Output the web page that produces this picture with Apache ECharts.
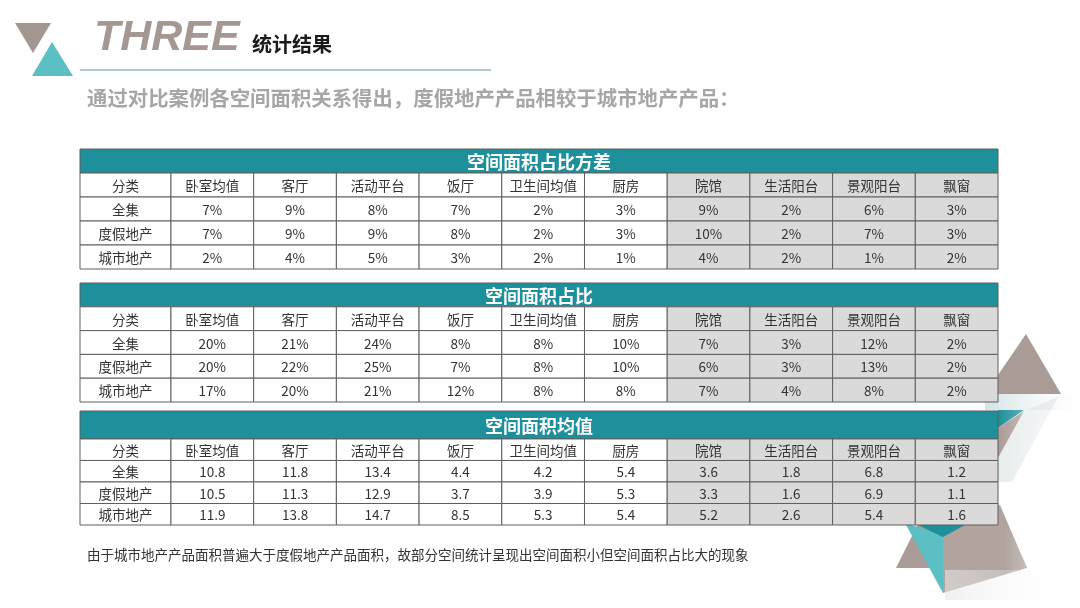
<!DOCTYPE html>
<html><head><meta charset="utf-8">
<script src="https://cdn.jsdelivr.net/npm/echarts@6/dist/echarts.min.js"></script>
<style>html,body{margin:0;padding:0;background:#fff}#c{width:1080px;height:608px}</style>
</head><body><div id="c"></div>
<script>
// ---- data ----
var columns = ['分类','卧室均值','客厅','活动平台','饭厅','卫生间均值','厨房','院馆','生活阳台','景观阳台','飘窗'];
var rowNames = ['全集','度假地产','城市地产'];
var title1 = '空间面积占比方差';
var title2 = '空间面积占比';
var title3 = '空间面积均值';
// 空间面积占比方差 (%)
var var_all    = [7, 9, 8, 7, 2, 3, 9, 2, 6, 3];
var var_resort = [7, 9, 9, 8, 2, 3, 10, 2, 7, 3];
var var_city   = [2, 4, 5, 3, 2, 1, 4, 2, 1, 2];
// 空间面积占比 (%)
var pct_all    = [20, 21, 24, 8, 8, 10, 7, 3, 12, 2];
var pct_resort = [20, 22, 25, 7, 8, 10, 6, 3, 13, 2];
var pct_city   = [17, 20, 21, 12, 8, 8, 7, 4, 8, 2];
// 空间面积均值
var avg_all    = [10.8, 11.8, 13.4, 4.4, 4.2, 5.4, 3.6, 1.8, 6.8, 1.2];
var avg_resort = [10.5, 11.3, 12.9, 3.7, 3.9, 5.3, 3.3, 1.6, 6.9, 1.1];
var avg_city   = [11.9, 13.8, 14.7, 8.5, 5.3, 5.4, 5.2, 2.6, 5.4, 1.6];

var headText = 'THREE';
var headCn = '统计结果';
var subtitle = '通过对比案例各空间面积关系得出，度假地产产品相较于城市地产产品：';
var note = '由于城市地产产品面积普遍大于度假地产产品面积，故部分空间统计呈现出空间面积小但空间面积占比大的现象';

// ---- build ----
var FONT = '"Noto Sans CJK SC","Microsoft YaHei",sans-serif';
var TEAL = '#1d909b', GRAY = '#dadada', LINE = '#5f5f5f';
var XMIN = -0.6, XMAX = 10.5;

function buildCells(rows, fmt) {
  var cells = [], labels = [];
  columns.forEach(function (c, i) { cells.push([i, 0]); labels.push(c); });
  rows.forEach(function (vals, r) {
    cells.push([0, r + 1]); labels.push(rowNames[r]);
    vals.forEach(function (v, i) { cells.push([i + 1, r + 1]); labels.push(fmt(v)); });
  });
  return { cells: cells, labels: labels };
}
var pctFmt = function (v) { return v + '%'; };
var decFmt = function (v) { return v.toFixed(1); };
var tables = [
  { title: title1, d: buildCells([var_all, var_resort, var_city], pctFmt), top: 149, h: 120, ymin: -1.5 },
  { title: title2, d: buildCells([pct_all, pct_resort, pct_city], pctFmt), top: 283, h: 119, ymin: -1.5 },
  { title: title3, d: buildCells([avg_all, avg_resort, avg_city], decFmt), top: 411, h: 114, ymin: -1.8 }
];

var grids = [], xAxes = [], yAxes = [], series = [];
tables.forEach(function (t, k) {
  grids.push({ left: 80, width: 918, top: t.top, height: t.h });
  xAxes.push({ type: 'value', gridIndex: k, min: XMIN, max: XMAX, show: false });
  yAxes.push({ type: 'value', gridIndex: k, min: t.ymin, max: 3.5, inverse: true, show: false });
  series.push({
    type: 'custom', xAxisIndex: k, yAxisIndex: k, z: 3, silent: true,
    data: [[0, -1]],
    renderItem: function (params, api) {
      var p0 = api.coord([XMIN, t.ymin]), p1 = api.coord([XMAX, -0.5]);
      return { type: 'group', children: [
        { type: 'rect', shape: { x: p0[0], y: p0[1], width: p1[0] - p0[0], height: p1[1] - p0[1] },
          style: { fill: TEAL, stroke: LINE, lineWidth: 1 } },
        { type: 'text', style: { text: t.title, x: (p0[0] + p1[0]) / 2, y: (p0[1] + p1[1]) / 2 + 1,
          align: 'center', verticalAlign: 'middle', font: 'bold 18px ' + FONT, fill: '#fff' } }
      ]};
    }
  });
  series.push({
    type: 'custom', xAxisIndex: k, yAxisIndex: k, z: 3, silent: true,
    data: t.d.cells,
    renderItem: function (params, api) {
      var col = api.value(0), row = api.value(1);
      var x0 = col === 0 ? XMIN : col - 0.5;
      var p0 = api.coord([x0, row - 0.5]), p1 = api.coord([col + 0.5, row + 0.5]);
      return { type: 'group', children: [
        { type: 'rect', shape: { x: p0[0], y: p0[1], width: p1[0] - p0[0], height: p1[1] - p0[1] },
          style: { fill: col >= 7 ? GRAY : '#fff', stroke: LINE, lineWidth: 1 } },
        { type: 'text', style: { text: t.d.labels[params.dataIndex], x: (p0[0] + p1[0]) / 2, y: (p0[1] + p1[1]) / 2 + 1,
          align: 'center', verticalAlign: 'middle', font: '13.5px ' + FONT, fill: '#333' } }
      ]};
    }
  });
});

var BROWN = '#a99c96', LTEAL = '#5bbfc3';
function poly(pts, fill, z) { return { type: 'polygon', z: z || 0, silent: true, shape: { points: pts }, style: { fill: fill } }; }
function hfade(x, y, w, h, c0, c1, z) {
  return { type: 'rect', z: z || 1, silent: true, shape: { x: x, y: y, width: w, height: h },
    style: { fill: { type: 'linear', x: 0, y: 0, x2: 1, y2: 0, colorStops: [{ offset: 0, color: c0 }, { offset: 1, color: c1 }] } } };
}
var graphics = [
  // top-left logo
  poly([[15, 23], [51, 23], [33, 53]], '#a39791'),
  poly([[52, 42], [73, 76], [32, 76]], LTEAL),
  { type: 'text', left: 94, top: 17, style: { text: headText, font: 'italic bold 43px "Liberation Sans",Arial,sans-serif', fill: '#a59892' } },
  { type: 'text', left: 252, top: 34, style: { text: headCn, font: 'bold 20px ' + FONT, fill: '#1a1a1a' } },
  { type: 'line', shape: { x1: 80, y1: 70, x2: 491, y2: 70 }, style: { stroke: '#a9cbcf', lineWidth: 2 } },
  { type: 'text', left: 87, top: 88, style: { text: subtitle, font: 'bold 20.4px ' + FONT, fill: '#a6a6a6' } },
  { type: 'text', left: 87, top: 548, style: { text: note, font: '13.5px ' + FONT, fill: '#333' } },
  // right decoration (upper)
  poly([[1026, 334], [1061, 394], [985, 394]], BROWN),
  hfade(985, 394, 95, 16, '#d3e3e5', 'rgba(240,244,245,0)'),
  poly([[998, 410], [1024, 410], [998, 428]], TEAL),
  poly([[998, 428], [1024, 411], [998, 458]], BROWN),
  poly([[1024, 411], [1058, 397], [1012, 482], [998, 482], [998, 458]], 'rgba(185,200,204,0.35)'),
  hfade(998, 410, 82, 75, 'rgba(255,255,255,0)', 'rgba(255,255,255,0.9)', 2),
  // right decoration (lower)
  poly([[896, 568], [1027, 568], [965, 430]], BROWN),
  poly([[943, 533], [1000, 505], [1027, 568], [943, 593]], '#b1a49e'),
  poly([[905, 523], [943, 535], [943, 593]], LTEAL),
  poly([[918, 525], [965, 525], [943, 537]], TEAL),
  hfade(1005, 525, 75, 80, 'rgba(255,255,255,0)', 'rgba(255,255,255,0.95)', 2),
  hfade(945, 570, 135, 30, 'rgba(230,230,230,0.6)', 'rgba(255,255,255,0)', 1)
];

var chart = echarts.init(document.getElementById('c'));
chart.setOption({
  backgroundColor: '#fff',
  animation: false,
  grid: grids, xAxis: xAxes, yAxis: yAxes, series: series,
  graphic: graphics
});
</script></body></html>
